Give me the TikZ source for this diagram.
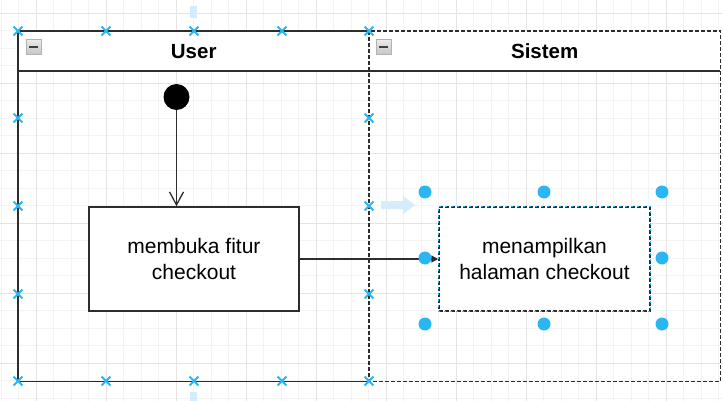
\documentclass[tikz,border=0pt]{standalone}
\usepackage{fontspec}
\setmainfont{Liberation Sans}
\usetikzlibrary{arrows.meta,shapes.misc,calc}
\definecolor{minorgrid}{RGB}{243,243,243}
\definecolor{majorgrid}{RGB}{228,228,228}
\definecolor{handleblue}{RGB}{41,182,242}
\definecolor{hintblue}{RGB}{212,236,251}
\definecolor{lanestroke}{RGB}{45,45,45}
\definecolor{iconfill}{RGB}{196,196,196}
\tikzset{
  minorline/.style={draw=minorgrid, line width=0.8pt},
  majorline/.style={draw=majorgrid, line width=0.8pt},
  laneframe/.style={minimum width=351pt, minimum height=350pt, inner sep=0pt, anchor=north west},
  laneborder/.style={draw=lanestroke, line width=1.5pt},
  laneheader/.style={fill=white, minimum width=351pt, minimum height=40pt, inner sep=0pt, anchor=north west, font=\fontsize{20.5}{24}\selectfont\bfseries},
  headline/.style={draw=lanestroke, line width=1.5pt},
  dashframe/.style={dash pattern=on 4pt off 2pt},
  collapseicon/.style={draw=gray!60, top color=gray!15, bottom color=gray!45, minimum size=15pt, inner sep=0pt, anchor=north west},
  startnode/.style={circle, fill=black, minimum size=26pt, inner sep=0pt},
  actbox/.style={rectangle, draw=lanestroke, fill=white, line width=1.5pt, minimum width=210pt, minimum height=104pt, inner sep=0pt, align=center, font=\fontsize{21}{26}\selectfont},
  openarrow/.style={draw=lanestroke, line width=1.3pt, -{Straight Barb[length=13pt,width=14pt,line width=1.3pt]}},
  flowarrow/.style={draw=lanestroke, line width=1.3pt, -{Stealth[length=7pt,width=7pt,inset=0pt]}},
  handle/.style={circle, fill=handleblue, minimum size=13pt, inner sep=0pt},
  xmark/.style={cross out, draw=handleblue, minimum size=7pt, inner sep=0pt, line width=1.8pt},
}
\begin{document}
\begin{tikzpicture}[x=1pt,y=-1pt]
\useasboundingbox (0,0) rectangle (723,401);
\fill[white] (0,0) rectangle (723,401);
% grid
\foreach \i in {0,...,41} {\draw[minorline] ({1+17.5*\i},0) -- ({1+17.5*\i},401);}
\foreach \i in {0,...,22} {\draw[minorline] (0,{13+17.5*\i}) -- (723,{13+17.5*\i});}
\foreach \i in {0,...,9} {\draw[majorline] ({36+70*\i},0) -- ({36+70*\i},401);}
\foreach \i in {0,...,5} {\draw[majorline] (0,{13+70*\i}) -- (723,{13+70*\i});}
% hint marks
\fill[hintblue] (190,6) rectangle (197,18);
\fill[hintblue] (190,392) rectangle (197,401);
\fill[hintblue] (381,201) -- (403,201) -- (403,196) -- (415,205) -- (403,214) -- (403,209) -- (381,209) -- cycle;
% lanes
\node[laneheader] (userhead) at (18,31) {User};
\node[laneheader] (sistemhead) at (369,31) {Sistem};
\node[laneframe] (userlane) at (18,31) {};
\node[laneframe] (sistemlane) at (369,31) {};
\draw[laneborder] (userlane.north east) -- (userlane.north west) -- (userlane.south west) -- (userlane.south east);
\draw[laneborder, dashframe] (sistemlane.north west) rectangle (sistemlane.south east);
\draw[headline] (userlane.west |- 0,71) -- (userlane.east |- 0,71);
\draw[headline] (sistemlane.west |- 0,71) -- (sistemlane.east |- 0,71);
\node[collapseicon] (usericon) at (26,39) {};
\draw[black!75, line width=1.8pt] ($(usericon.west)+(3,0)$) -- ($(usericon.east)+(-3,0)$);
\node[collapseicon] (sistemicon) at (376,39) {};
\draw[black!75, line width=1.8pt] ($(sistemicon.west)+(3,0)$) -- ($(sistemicon.east)+(-3,0)$);
% nodes
\node[startnode] (start) at (176.5,97) {};
\node[actbox] (b1) at (194,259) {membuka fitur\\checkout};
\node[actbox, minimum width=211pt, dashframe] (b2) at (544.5,259) {menampilkan\\halaman checkout};
\draw[handleblue, line width=1pt, dash pattern=on 2pt off 4pt, dash phase=-3pt] (b2.north west) rectangle (b2.south east);
% connectors
\draw[openarrow] (start) -- (start |- b1.north);
\draw[flowarrow] (b1) -- (b2);
% selection handles
\foreach \p in {(425,192),(544,192),(662,192),(425,258),(662,258),(425,324),(544,324),(662,324)} {\node[handle] at \p {};}
\foreach \x in {18,106,194,282,369} {\node[xmark] at (\x,31) {}; \node[xmark] at (\x,381) {};}
\foreach \y in {118,206,294} {\node[xmark] at (18,\y) {}; \node[xmark] at (369,\y) {};}
\end{tikzpicture}
\end{document}
